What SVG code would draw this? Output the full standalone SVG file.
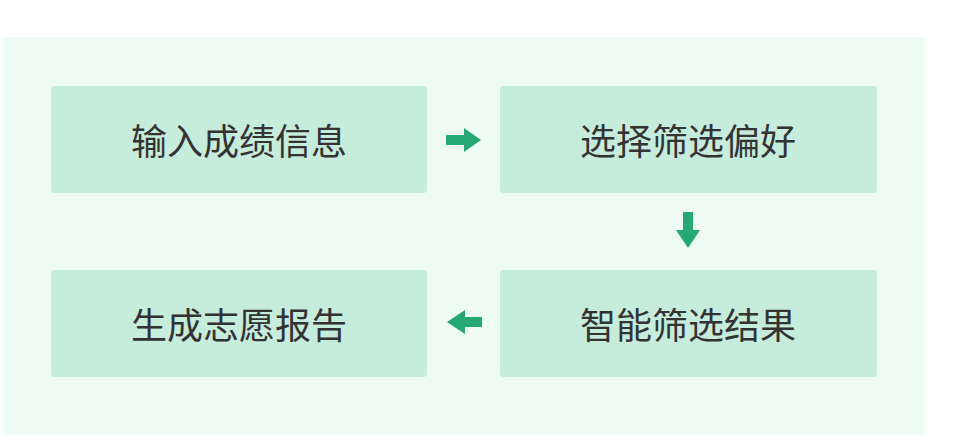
<svg xmlns="http://www.w3.org/2000/svg" width="960" height="435" viewBox="0 0 960 435">
<style>
.box{fill:#c6ecdb}
.t{font-family:"Noto Sans CJK SC",sans-serif;font-size:36px;fill:#333;text-anchor:middle;dominant-baseline:central}
.a{fill:#25a872}
</style>
<rect width="960" height="435" fill="#fff"/>
<rect x="3" y="37" width="922" height="398" fill="#eefaf4"/>
<g id="n1"><rect class="box" x="51" y="86" width="376" height="107" rx="4"/><text class="t" x="239" y="139">输入成绩信息</text></g>
<g id="n2"><rect class="box" x="500" y="86" width="377" height="107" rx="4"/><text class="t" x="688" y="139">选择筛选偏好</text></g>
<g id="n3"><rect class="box" x="500" y="270" width="377" height="107" rx="4"/><text class="t" x="688" y="323">智能筛选结果</text></g>
<g id="n4"><rect class="box" x="51" y="270" width="376" height="107" rx="4"/><text class="t" x="239" y="323">生成志愿报告</text></g>
<g id="connectors">
<polygon class="a" points="446,135 464,135 464,128 481,140 464,152 464,145 446,145"/>
<polygon class="a" points="683,212 693,212 693,230 700,230 688,248 676,230 683,230"/>
<polygon class="a" points="482,317 465,317 465,310 447,322 465,334 465,327 482,327"/>
</g>
</svg>
